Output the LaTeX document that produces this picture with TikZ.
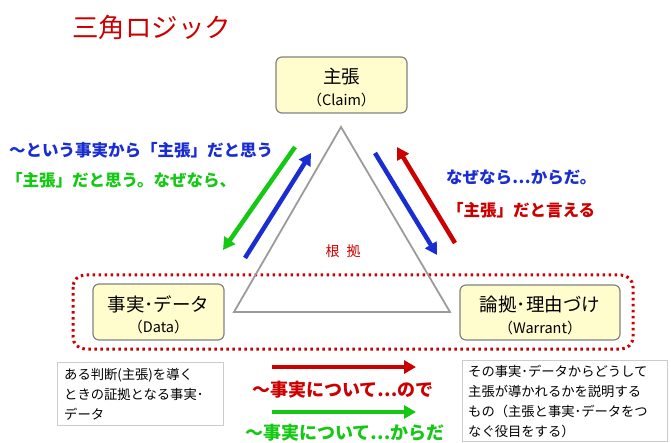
\documentclass[tikz,border=0pt]{standalone}
\usepackage{fontspec}
\setmainfont{Noto Sans CJK JP}
\usetikzlibrary{arrows.meta}
\definecolor{tred}{RGB}{204,0,0}
\definecolor{tblue}{RGB}{25,45,210}
\definecolor{tgreen}{RGB}{20,200,20}
\definecolor{boxfill}{RGB}{255,252,205}
\definecolor{boxline}{RGB}{130,130,130}
\tikzset{
  termbox/.style={draw=boxline, fill=boxfill, rounded corners=6pt, line width=1.2pt, inner sep=0pt, align=center},
  notebox/.style={draw=black!20, line width=1pt, inner sep=0pt},
  fatarrow/.style={line width=4.5pt, -{Triangle[length=12pt,width=13pt]}},
  lbl/.style={font=\bfseries\fontsize{16.5}{18}\selectfont, inner sep=0pt, anchor=west},
  blbl/.style={font=\bfseries\fontsize{18}{19}\selectfont, inner sep=0pt, anchor=center},
  jtitle/.style={font=\fontsize{18.5}{20}\selectfont, inner sep=0pt},
  etitle/.style={font=\fontsize{14.5}{15}\selectfont, inner sep=0pt},
  notetxt/.style={font=\fontsize{13.3}{20}\selectfont, inner sep=0pt, anchor=north west, align=left}
}
\begin{document}
\begin{tikzpicture}[x=1pt,y=-1pt]
\useasboundingbox (0,0) rectangle (671,443);
% title
\node[anchor=west, text=tred, inner sep=0pt, font=\fontsize{26.5}{28}\selectfont] (title) at (72,27) {三角ロジック};
% red dotted frame
\draw[tred, line width=3pt, dash pattern=on 2.5pt off 3.5pt, rounded corners=12pt] (73,275) rectangle (633,349);
% triangle
\coordinate (apex) at (341,127);
\coordinate (bl) at (234,312);
\coordinate (br) at (450,312);
\draw[boxline!80, line width=1.8pt] (apex) -- (bl) -- (br) -- cycle;
% boxes
\path[termbox] (276,57) rectangle (407,113);
\node[jtitle] (claimj) at (341.5,77) {主張};
\node[etitle] (claime) at (341.5,100) {（Claim）};
\path[termbox] (93,284) rectangle (224,340);
\node[jtitle] (dataj) at (158.5,304) {事実･データ};
\node[etitle] (datae) at (158.5,327) {（Data）};
\path[termbox] (460,285) rectangle (620,340);
\node[jtitle] (warj) at (540,304) {論拠･理由づけ};
\node[etitle] (ware) at (540,328) {（Warrant）};
% center label
\node[text=tred, font=\fontsize{14}{15}\selectfont, inner sep=0pt] (konkyo) at (343,251) {根\hspace{0.5em}拠};
% diagonal arrows
\coordinate (g1) at (295,147); \coordinate (g2) at (223,250);
\coordinate (b1) at (245,258); \coordinate (b2) at (311,153);
\coordinate (b3) at (375,153); \coordinate (b4) at (437,255);
\coordinate (r1) at (455,243); \coordinate (r2) at (397,147);
\draw[fatarrow, tgreen] (g1) -- (g2);
\draw[fatarrow, tblue] (b1) -- (b2);
\draw[fatarrow, tblue] (b3) -- (b4);
\draw[fatarrow, tred] (r1) -- (r2);
% side labels
\node[lbl, text=tblue] (lb) at (9,150) {〜という事実から「主張」だと思う};
\node[lbl, text=tgreen] (lg) at (6,180) {「主張」だと思う。なぜなら、};
\node[lbl, text=tblue] (rb) at (446,177) {なぜなら⋯からだ。};
\node[lbl, text=tred] (rr) at (447,210) {「主張」だと言える};
% bottom arrows
\coordinate (ra1) at (272,367); \coordinate (ra2) at (416,367);
\coordinate (ga1) at (272,412); \coordinate (ga2) at (416,412);
\draw[fatarrow, tred] (ra1) -- (ra2);
\draw[fatarrow, tgreen] (ga1) -- (ga2);
\node[blbl, text=tred] (bl1) at (343,390) {〜事実について⋯ので};
\node[blbl, text=tgreen] (bl2) at (345,433) {〜事実について⋯からだ};
% notes
\draw[notebox] (57,362) rectangle (223,425);
\node[notetxt] (n1) at (64,368) {ある判断(主張)を導く\\ときの証拠となる事実･\\データ};
\draw[notebox] (462,360) rectangle (667,441);
\node[notetxt] (n2) at (468,365) {その事実･データからどうして\\主張が導かれるかを説明する\\もの（主張と事実･データをつ\\なぐ役目をする）};
\end{tikzpicture}
\end{document}
